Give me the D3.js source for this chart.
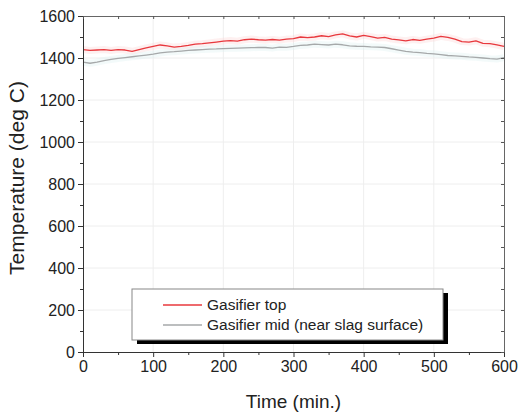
<!DOCTYPE html>
<html>
<head>
<meta charset="utf-8">
<script src="https://cdn.jsdelivr.net/npm/d3@7"></script>
<style>
  html, body { margin: 0; padding: 0; background: #fff; }
  svg { display: block; font-family: "Liberation Sans", Arial, sans-serif; }
  .tick text { fill: #222; }
</style>
</head>
<body>
<svg id="chart" width="518" height="414"></svg>
<script>
// time axis, minutes (every 10 min)
const times = d3.range(0, 601, 10);

// Gasifier top (deg C)
const topTemp = [
  1440, 1436, 1438, 1440, 1436, 1440, 1438, 1432, 1440, 1448,
  1455, 1462, 1458, 1452, 1455, 1460, 1466, 1468, 1472, 1476,
  1480, 1483, 1480, 1487, 1490, 1487, 1485, 1488, 1485, 1490,
  1492, 1500, 1497, 1500, 1506, 1502, 1510, 1515, 1505, 1500,
  1508, 1502, 1495, 1498, 1490, 1486, 1482, 1488, 1484, 1490,
  1495, 1503, 1498, 1490, 1478, 1476, 1482, 1470, 1468, 1462,
  1455
];

// Gasifier mid (near slag surface)
const midTemp = [
  1380, 1375, 1380, 1388, 1393, 1398, 1402, 1406, 1410, 1414,
  1418, 1424, 1428, 1430, 1433, 1436, 1438, 1440, 1442, 1443,
  1445, 1446, 1447, 1448, 1449, 1450, 1450, 1447, 1452, 1451,
  1455, 1460, 1462, 1466, 1464, 1462, 1466, 1463, 1458, 1456,
  1455, 1453, 1452, 1450, 1444, 1438, 1432, 1428, 1426, 1422,
  1420, 1416, 1412, 1410, 1408, 1405, 1403, 1400, 1397, 1395,
  1402
];

const seriesNames = ["Gasifier top", "Gasifier mid (near slag surface)"];
const seriesColors = ["#e8383d", "#a6a9aa"];
const haloColors = ["#fbd3d5", "#def1f2"];

const xTicks = [0, 100, 200, 300, 400, 500, 600];
const yTicks = [0, 200, 400, 600, 800, 1000, 1200, 1400, 1600];

const svg = d3.select("#chart");
const L = 83, R = 504, T = 16, B = 352;

const x = d3.scaleLinear().domain([0, 600]).range([L, R]);
const y = d3.scaleLinear().domain([0, 1600]).range([B, T]);

// faint grid
const grid = svg.append("g").attr("stroke", "#eeeeee").attr("stroke-width", 1);
xTicks.slice(1, -1).forEach(t => grid.append("line")
  .attr("x1", x(t)).attr("x2", x(t)).attr("y1", T).attr("y2", B));
yTicks.slice(1, -1).forEach(t => grid.append("line")
  .attr("x1", L).attr("x2", R).attr("y1", y(t)).attr("y2", y(t)));

// data lines (with a soft halo like the scanned figure)
const line = d3.line().x((d, i) => x(times[i])).y(d => y(d));
[topTemp, midTemp].forEach((s, k) => {
  svg.append("path").datum(s).attr("d", line).attr("fill", "none")
    .attr("stroke", haloColors[k]).attr("stroke-width", 7).attr("stroke-opacity", 0.35)
    .attr("stroke-linejoin", "round");
});
[midTemp, topTemp].forEach((s, k) => {
  const idx = k === 0 ? 1 : 0;
  svg.append("path").datum(s).attr("d", line).attr("fill", "none")
    .attr("stroke", seriesColors[idx]).attr("stroke-width", 1.3)
    .attr("stroke-linejoin", "round");
});

// axes: major ticks out on bottom/left, minor ticks, mirrored ticks inward on top/right
const xMinor = d3.range(50, 600, 100);
const yMinor = d3.range(100, 1600, 200);
const fmt = d3.format("d");

function styleAxis(g) {
  g.selectAll("path").attr("stroke", "#333");
  g.selectAll("line").attr("stroke", "#333");
}

svg.append("g").attr("transform", `translate(0,${B})`)
  .call(d3.axisBottom(x).tickValues(xTicks).tickFormat(fmt).tickSize(5).tickPadding(4).tickSizeOuter(0))
  .call(styleAxis)
  .call(g => g.selectAll("text").attr("font-size", 16).attr("font-family", "Liberation Sans, Arial"));
svg.append("g").attr("transform", `translate(0,${B})`)
  .call(d3.axisBottom(x).tickValues(xMinor).tickSize(3).tickFormat("").tickSizeOuter(0))
  .call(styleAxis).call(g => g.select(".domain").remove());

svg.append("g").attr("transform", `translate(${L},0)`)
  .call(d3.axisLeft(y).tickValues(yTicks).tickFormat(fmt).tickSize(5).tickPadding(3).tickSizeOuter(0))
  .call(styleAxis)
  .call(g => g.selectAll("text").attr("font-size", 16).attr("font-family", "Liberation Sans, Arial"));
svg.append("g").attr("transform", `translate(${L},0)`)
  .call(d3.axisLeft(y).tickValues(yMinor).tickSize(3).tickFormat("").tickSizeOuter(0))
  .call(styleAxis).call(g => g.select(".domain").remove());

svg.append("g").attr("transform", `translate(0,${T})`)
  .call(d3.axisBottom(x).tickValues(xTicks.concat(xMinor)).tickSize(3).tickFormat("").tickSizeOuter(0))
  .call(g => g.selectAll("path").attr("stroke", "#666"))
  .call(g => g.selectAll("line").attr("stroke", "#555"));
svg.append("g").attr("transform", `translate(${R},0)`)
  .call(d3.axisLeft(y).tickValues(yTicks.concat(yMinor)).tickSize(3).tickFormat("").tickSizeOuter(0))
  .call(g => g.selectAll("path").attr("stroke", "#666"))
  .call(g => g.selectAll("line").attr("stroke", "#555"));

// axis titles
svg.append("text").attr("x", (L + R) / 2).attr("y", 408).attr("text-anchor", "middle")
  .attr("font-size", 19).attr("fill", "#222").text("Time (min.)");
svg.append("text").attr("transform", `translate(24,178) rotate(-90)`)
  .attr("text-anchor", "middle").attr("font-size", 21).attr("fill", "#222")
  .text("Temperature (deg C)");

// legend with drop shadow
const lg = { x: 132, y: 289, w: 311, h: 51 };
svg.append("rect").attr("x", lg.x + 5).attr("y", lg.y + 4).attr("width", lg.w).attr("height", lg.h)
  .attr("fill", "#000");
svg.append("rect").attr("x", lg.x).attr("y", lg.y).attr("width", lg.w).attr("height", lg.h)
  .attr("fill", "#fff").attr("stroke", "#888").attr("stroke-width", 1);
seriesNames.forEach((name, i) => {
  const yy = lg.y + 16 + i * 20;
  svg.append("line").attr("x1", 163).attr("x2", 202).attr("y1", yy).attr("y2", yy)
    .attr("stroke", seriesColors[i]).attr("stroke-width", 1.3);
  svg.append("text").attr("x", 207).attr("y", yy + 5).attr("font-size", 15.5).attr("fill", "#222")
    .text(name);
});
</script>
</body>
</html>
